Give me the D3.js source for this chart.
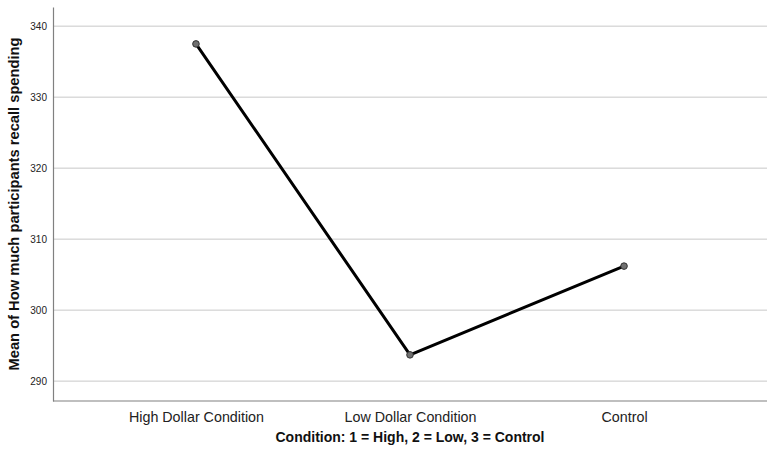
<!DOCTYPE html>
<html>
<head>
<meta charset="utf-8">
<script src="https://cdn.jsdelivr.net/npm/d3@7"></script>
<style>
  body { margin: 0; background: #fff; }
  svg { display: block; font-family: "Liberation Sans", Arial, sans-serif; }
</style>
</head>
<body>
<div id="chart"></div>
<script>
const conditions = ["High Dollar Condition", "Low Dollar Condition", "Control"];
const meanSpending = [337.5, 293.7, 306.2];
const yTicks = [290, 300, 310, 320, 330, 340];

const width = 771;
const height = 458;
const margin = { top: 7, right: 4, bottom: 57, left: 53 };

const svg = d3
  .select("#chart")
  .append("svg")
  .attr("width", width)
  .attr("height", height);

const xScale = d3
  .scalePoint()
  .domain(conditions)
  .range([margin.left, width - margin.right])
  .padding(0.668);

const yScale = d3
  .scaleLinear()
  .domain([287.2, 342.7])
  .range([height - margin.bottom, margin.top]);

// gridlines
svg
  .append("g")
  .selectAll("line")
  .data(yTicks)
  .join("line")
  .attr("x1", margin.left)
  .attr("x2", width - margin.right)
  .attr("y1", (d) => yScale(d))
  .attr("y2", (d) => yScale(d))
  .attr("stroke", "#c8c8c8")
  .attr("stroke-width", 1);

const yAxis = svg
  .append("g")
  .attr("transform", `translate(${margin.left}, 0)`)
  .call(d3.axisLeft(yScale).tickValues(yTicks).tickSize(0).tickPadding(6));
yAxis.select(".domain").attr("stroke", "#808080").attr("stroke-width", 1.2);
yAxis.selectAll("text").attr("font-size", 10).attr("fill", "#222");

const xAxis = svg
  .append("g")
  .attr("transform", `translate(0, ${height - margin.bottom})`)
  .call(d3.axisBottom(xScale).tickSize(0).tickPadding(11));
xAxis
  .select(".domain")
  .attr("stroke", "#808080")
  .attr("stroke-width", 1.2)
  .attr("d", `M${margin.left},0H${width - margin.right}`);
xAxis.selectAll("text").attr("font-size", 14.3).attr("fill", "#222");

const points = conditions.map((c, i) => ({ c, v: meanSpending[i] }));

const line = d3
  .line()
  .x((d) => xScale(d.c))
  .y((d) => yScale(d.v));

svg
  .append("path")
  .datum(points)
  .attr("fill", "none")
  .attr("stroke", "#000")
  .attr("stroke-width", 3)
  .attr("stroke-linejoin", "round")
  .attr("d", line);

svg
  .append("g")
  .selectAll("circle")
  .data(points)
  .join("circle")
  .attr("cx", (d) => xScale(d.c))
  .attr("cy", (d) => yScale(d.v))
  .attr("r", 3.3)
  .attr("fill", "#707070")
  .attr("stroke", "#333")
  .attr("stroke-width", 1);

svg
  .append("text")
  .attr("x", (margin.left + width - margin.right) / 2)
  .attr("y", 442)
  .attr("text-anchor", "middle")
  .attr("font-size", 14)
  .attr("font-weight", "bold")
  .attr("fill", "#111")
  .text("Condition: 1 = High, 2 = Low, 3 = Control");

svg
  .append("text")
  .attr("transform", "rotate(-90)")
  .attr("x", -204)
  .attr("y", 19)
  .attr("text-anchor", "middle")
  .attr("font-size", 14.7)
  .attr("font-weight", "bold")
  .attr("fill", "#111")
  .text("Mean of How much participants recall spending");
</script>
</body>
</html>
